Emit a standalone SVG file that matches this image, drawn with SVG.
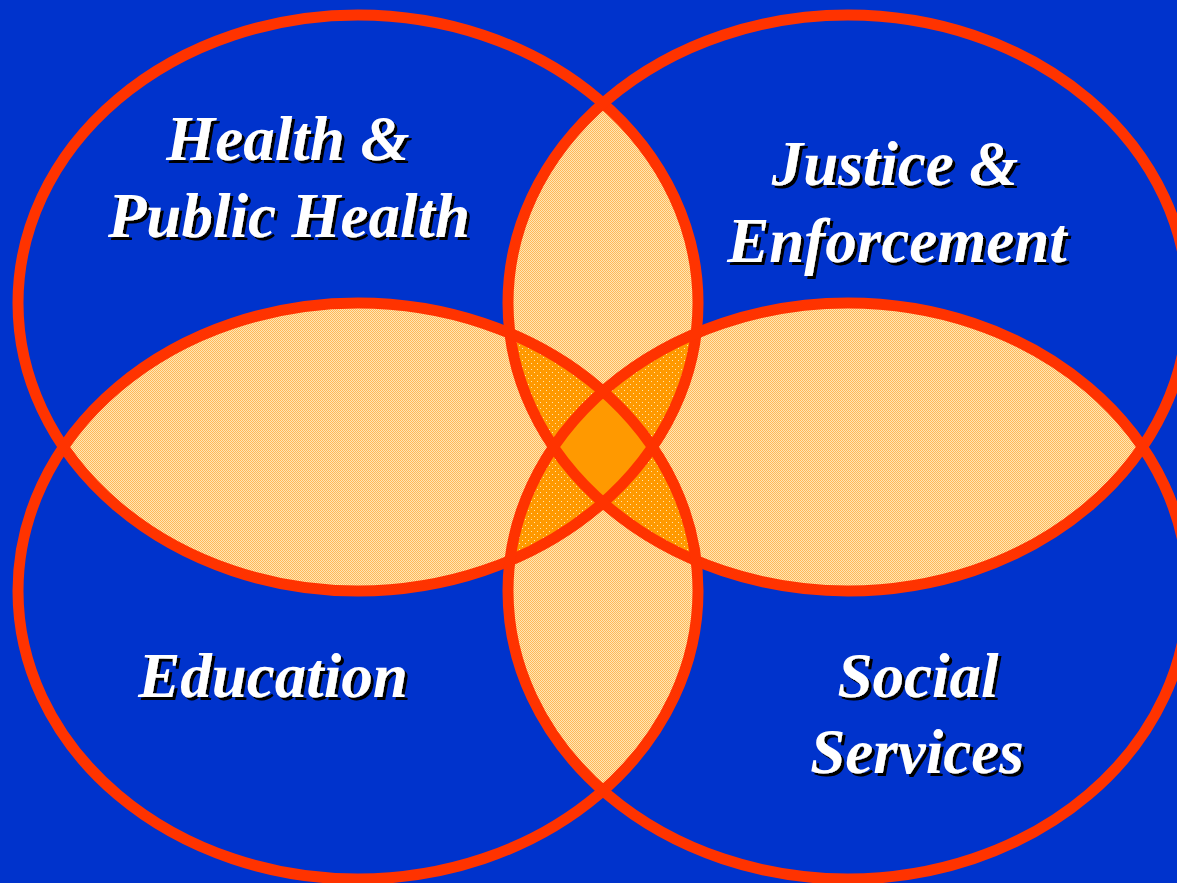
<svg xmlns="http://www.w3.org/2000/svg" xmlns:xlink="http://www.w3.org/1999/xlink" width="1177" height="883" viewBox="0 0 1177 883">
<style>
.ring{fill:none;stroke:#FF3300;stroke-width:11}
.lbl{font-family:"Liberation Serif","Times New Roman",serif;font-weight:bold;font-style:italic;font-size:63px;text-anchor:middle;fill:#FFFFFF;filter:url(#shadow)}
</style>
<defs>
<filter id="shadow" x="-10%" y="-30%" width="130%" height="160%">
<feOffset in="SourceAlpha" dx="3" dy="3" result="o"/>
<feFlood flood-color="#000000"/>
<feComposite in2="o" operator="in" result="s"/>
<feMerge><feMergeNode in="s"/><feMergeNode in="SourceGraphic"/></feMerge>
</filter>
<ellipse id="eTL" cx="358" cy="303" rx="340" ry="288"/>
<ellipse id="eTR" cx="848" cy="303" rx="340" ry="288"/>
<ellipse id="eBL" cx="358" cy="591" rx="340" ry="288"/>
<ellipse id="eBR" cx="848" cy="591" rx="340" ry="288"/>
<clipPath id="cTL"><use xlink:href="#eTL"/></clipPath>
<clipPath id="cTR"><use xlink:href="#eTR"/></clipPath>
<clipPath id="cBL"><use xlink:href="#eBL"/></clipPath>
<clipPath id="cBR"><use xlink:href="#eBR"/></clipPath>
<pattern id="p1" patternUnits="userSpaceOnUse" width="2" height="2">
<rect width="2" height="2" fill="#FFE6B4"/>
<rect width="1" height="1" fill="#FFB858"/>
<rect x="1" y="1" width="1" height="1" fill="#FFB858"/>
</pattern>
<pattern id="p2" patternUnits="userSpaceOnUse" width="6" height="6">
<rect width="6" height="6" fill="#FF9900"/>
<rect width="1" height="1" fill="#FFE6B0"/>
<rect x="3" y="3" width="1" height="1" fill="#FFE6B0"/>
</pattern>
</defs>
<rect width="1177" height="883" fill="#0033CC"/>
<g id="overlaps">
<use xlink:href="#eTL" fill="url(#p1)" clip-path="url(#cTR)"/>
<use xlink:href="#eTL" fill="url(#p1)" clip-path="url(#cBL)"/>
<use xlink:href="#eTL" fill="url(#p1)" clip-path="url(#cBR)"/>
<use xlink:href="#eTR" fill="url(#p1)" clip-path="url(#cBL)"/>
<use xlink:href="#eTR" fill="url(#p1)" clip-path="url(#cBR)"/>
<use xlink:href="#eBL" fill="url(#p1)" clip-path="url(#cBR)"/>
<g clip-path="url(#cBL)"><use xlink:href="#eTL" fill="url(#p2)" clip-path="url(#cTR)"/></g>
<g clip-path="url(#cBR)"><use xlink:href="#eTL" fill="url(#p2)" clip-path="url(#cTR)"/></g>
<g clip-path="url(#cBR)"><use xlink:href="#eTL" fill="url(#p2)" clip-path="url(#cBL)"/></g>
<g clip-path="url(#cBR)"><use xlink:href="#eTR" fill="url(#p2)" clip-path="url(#cBL)"/></g>
<g clip-path="url(#cBR)"><g clip-path="url(#cBL)"><use xlink:href="#eTL" fill="#FF9900" clip-path="url(#cTR)"/></g></g>
</g>
<g id="connectors"/>
<g id="health">
<use xlink:href="#eTL" class="ring"/>
<text class="lbl" x="288" y="160">Health &amp;</text>
<text class="lbl" x="289" y="237">Public Health</text>
</g>
<g id="justice">
<use xlink:href="#eTR" class="ring"/>
<text class="lbl" x="895" y="185">Justice &amp;</text>
<text class="lbl" x="897" y="262">Enforcement</text>
</g>
<g id="education">
<use xlink:href="#eBL" class="ring"/>
<text class="lbl" x="273" y="697">Education</text>
</g>
<g id="social">
<use xlink:href="#eBR" class="ring"/>
<text class="lbl" x="918" y="697">Social</text>
<text class="lbl" x="917" y="773">Services</text>
</g>
</svg>
